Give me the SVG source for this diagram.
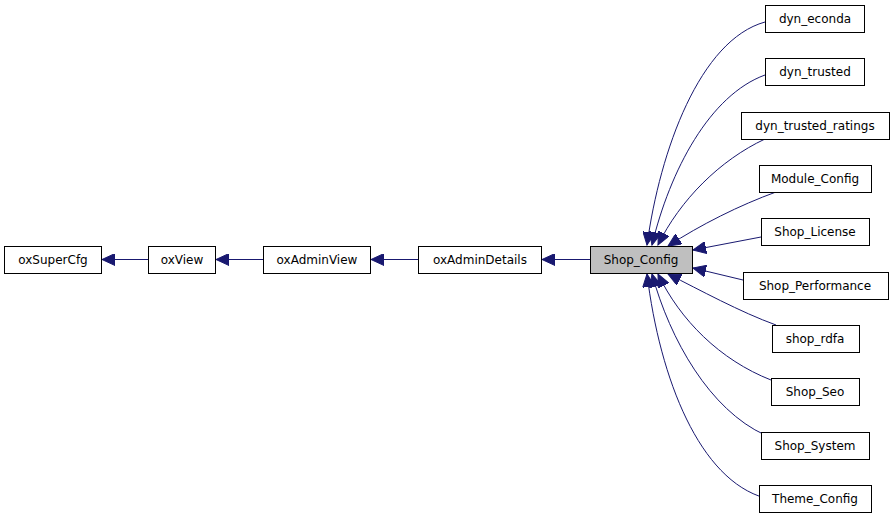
<svg xmlns="http://www.w3.org/2000/svg" width="896" height="520" viewBox="0 0 896 520">
<style>
.n rect{fill:#fff;stroke:#000;stroke-width:1}
.n text{font-family:"DejaVu Sans",sans-serif;font-size:12px;text-anchor:middle;fill:#000}
.e path{fill:none;stroke:#191970;stroke-width:1}
</style>
<defs>
<marker id="a" markerUnits="userSpaceOnUse" markerWidth="14" markerHeight="12" refX="13" refY="6" orient="auto">
<path d="M0,0 L13,6 L0,12 Z" fill="#191970" stroke="#191970"/>
</marker>
</defs>
<rect width="896" height="520" fill="#fff"/>
<g class="e">
<path d="M148,259.5 H102" marker-end="url(#a)"/>
<path d="M263,259.5 H216" marker-end="url(#a)"/>
<path d="M418,259.5 H371" marker-end="url(#a)"/>
<path d="M590,259.5 H542" marker-end="url(#a)"/>
<path d="M765,22 C700,40 660,150 647,245" marker-end="url(#a)"/>
<path d="M765,75 C710,95 670,170 652,245" marker-end="url(#a)"/>
<path d="M765,139 C720,160 680,200 658,245" marker-end="url(#a)"/>
<path d="M776,192 C740,205 700,225 668,246" marker-end="url(#a)"/>
<path d="M761,237 L693,250" marker-end="url(#a)"/>
<path d="M743,280 L693,268" marker-end="url(#a)"/>
<path d="M776,325 C740,312 700,290 668,274" marker-end="url(#a)"/>
<path d="M771,380 C720,360 680,320 658,274" marker-end="url(#a)"/>
<path d="M765,435 C710,410 670,340 652,274" marker-end="url(#a)"/>
<path d="M765,498 C700,480 660,380 647,274" marker-end="url(#a)"/>
</g>
<g id="oxSuperCfg" class="n"><rect x="4.5" y="246.5" width="97" height="27"/><text x="53" y="264">oxSuperCfg</text></g>
<g id="oxView" class="n"><rect x="148.5" y="246.5" width="67" height="27"/><text x="182" y="264">oxView</text></g>
<g id="oxAdminView" class="n"><rect x="263.5" y="246.5" width="107" height="27"/><text x="317" y="264">oxAdminView</text></g>
<g id="oxAdminDetails" class="n"><rect x="418.5" y="246.5" width="123" height="27"/><text x="480" y="264">oxAdminDetails</text></g>
<g id="Shop_Config" class="n"><rect x="590.5" y="246.5" width="102" height="27" style="fill:#bfbfbf"/><text x="641" y="264">Shop_Config</text></g>
<g id="dyn_econda" class="n"><rect x="765.5" y="5.5" width="99" height="27"/><text x="815" y="23">dyn_econda</text></g>
<g id="dyn_trusted" class="n"><rect x="765.5" y="58.5" width="99" height="27"/><text x="815" y="76">dyn_trusted</text></g>
<g id="dyn_trusted_ratings" class="n"><rect x="741.5" y="112.5" width="148" height="27"/><text x="815" y="130">dyn_trusted_ratings</text></g>
<g id="Module_Config" class="n"><rect x="759.5" y="165.5" width="112" height="27"/><text x="815" y="183">Module_Config</text></g>
<g id="Shop_License" class="n"><rect x="761.5" y="218.5" width="108" height="27"/><text x="815" y="236">Shop_License</text></g>
<g id="Shop_Performance" class="n"><rect x="743.5" y="272.5" width="145" height="27"/><text x="815" y="290">Shop_Performance</text></g>
<g id="shop_rdfa" class="n"><rect x="772.5" y="325.5" width="87" height="27"/><text x="815" y="343">shop_rdfa</text></g>
<g id="Shop_Seo" class="n"><rect x="771.5" y="378.5" width="88" height="27"/><text x="815" y="396">Shop_Seo</text></g>
<g id="Shop_System" class="n"><rect x="761.5" y="432.5" width="108" height="27"/><text x="815" y="450">Shop_System</text></g>
<g id="Theme_Config" class="n"><rect x="759.5" y="485.5" width="112" height="27"/><text x="815" y="503">Theme_Config</text></g>
</svg>
